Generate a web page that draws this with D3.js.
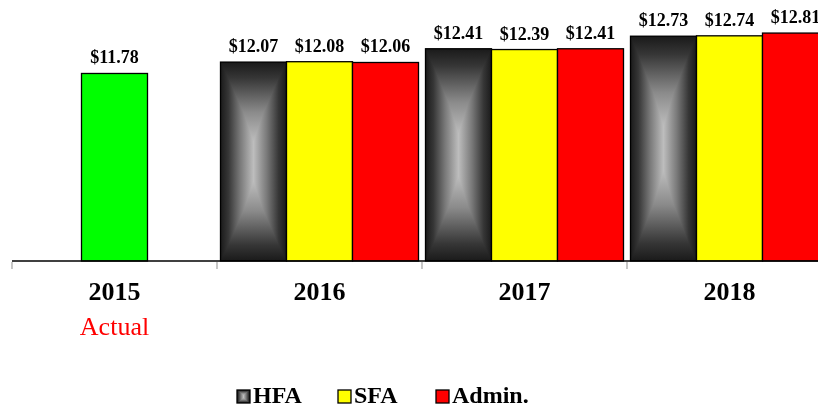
<!DOCTYPE html>
<html>
<head>
<meta charset="utf-8">
<script src="https://cdn.jsdelivr.net/npm/d3@7.9.0/dist/d3.min.js"></script>
<style>
  html, body { margin: 0; padding: 0; background: #fff; }
  svg { display: block; font-family: "Liberation Serif", "Times New Roman", serif; }
</style>
</head>
<body>
<div id="chart"></div>
<script>
// data
const years = ["2015", "2016", "2017", "2018"];
const series = ["HFA", "SFA", "Admin."];
const hfaValues = [null, 12.07, 12.41, 12.73];
const sfaValues = [null, 12.08, 12.39, 12.74];
const adminValues = [null, 12.06, 12.41, 12.81];
const actualValues = [11.78, null, null, null];
const subLabels = ["Actual", "", "", ""];

const width = 818;
const height = 406;

const seriesColor = { "HFA": "url(#hfa-h)", "SFA": "#ffff00", "Admin.": "#ff0000" };

// 每个 series 一组值
const seriesValues = { "HFA": hfaValues, "SFA": sfaValues, "Admin.": adminValues };

const svg = d3.select("#chart").append("svg")
  .attr("width", width)
  .attr("height", height);

// HFA 渐变：横向 + 纵向，再用 darken 叠起来 -> 矩形的 "from center" 效果
const defs = svg.append("defs");
function addGrad(id, vertical, stops) {
  const g = defs.append("linearGradient")
    .attr("id", id)
    .attr("x1", 0).attr("y1", 0)
    .attr("x2", vertical ? 0 : 1).attr("y2", vertical ? 1 : 0);
  stops.forEach(([o, c]) => g.append("stop").attr("offset", o).attr("stop-color", c));
}
addGrad("hfa-h", false, [[0, "#1a1a1a"], [0.12, "#363636"], [0.3, "#7a7a7a"], [0.5, "#bdbdbd"],
  [0.7, "#7a7a7a"], [0.88, "#363636"], [1, "#1a1a1a"]]);
addGrad("hfa-v", true, [[0, "#1a1a1a"], [0.08, "#363636"], [0.25, "#8a8a8a"], [0.4, "#bdbdbd"],
  [0.6, "#bdbdbd"], [0.75, "#8a8a8a"], [0.92, "#363636"], [1, "#1a1a1a"]]);

const x0 = d3.scaleBand().domain(years).range([12, 832]).padding(0);
const x1 = d3.scaleBand().domain(series).range([0, x0.bandwidth()]).paddingOuter(0.053);
const y = d3.scaleLinear().domain([7, 13.5]).range([261, 6]);

const fmt = (v) => "$" + d3.format(".2f")(v);

// 扁平化所有柱子
const bars = [];
years.forEach((yr, i) => {
  if (actualValues[i] != null) {
    bars.push({
      year: yr, key: "Actual", value: actualValues[i],
      x: x0(yr) + x0.bandwidth() / 2 - x1.bandwidth() / 2,
      fill: "#00ff00",
    });
  }
  series.forEach((s) => {
    const v = seriesValues[s][i];
    if (v == null) return;
    bars.push({ year: yr, key: s, value: v, x: x0(yr) + x1(s), fill: seriesColor[s] });
  });
});

const gBars = svg.append("g");
const barG = gBars.selectAll("g.bar").data(bars).join("g").attr("class", "bar");

barG.append("rect")
  .attr("x", (d) => d.x)
  .attr("y", (d) => y(d.value))
  .attr("width", x1.bandwidth())
  .attr("height", (d) => y(7) - y(d.value))
  .attr("fill", (d) => d.fill);

// HFA 纵向渐变叠加
barG.filter((d) => d.key === "HFA").append("rect")
  .attr("x", (d) => d.x)
  .attr("y", (d) => y(d.value))
  .attr("width", x1.bandwidth())
  .attr("height", (d) => y(7) - y(d.value))
  .attr("fill", "url(#hfa-v)")
  .style("mix-blend-mode", "darken");

// 描边
barG.append("rect")
  .attr("x", (d) => d.x)
  .attr("y", (d) => y(d.value))
  .attr("width", x1.bandwidth())
  .attr("height", (d) => y(7) - y(d.value))
  .attr("fill", "none")
  .attr("stroke", "#000")
  .attr("stroke-width", 1.3);

// 数值标签
barG.append("text")
  .attr("x", (d) => d.x + x1.bandwidth() / 2)
  .attr("y", (d) => y(d.value) - 10)
  .attr("text-anchor", "middle")
  .attr("font-weight", "bold")
  .attr("font-size", 18)
  .attr("fill", "#000")
  .text((d) => fmt(d.value));

// x 轴：基线 + 灰色刻度
const gAxis = svg.append("g");
gAxis.append("line")
  .attr("x1", x0.range()[0]).attr("x2", x0.range()[1])
  .attr("y1", y(7)).attr("y2", y(7))
  .attr("stroke", "#000").attr("stroke-width", 1.3);

gAxis.selectAll("line.tick")
  .data(years)
  .join("line")
  .attr("class", "tick")
  .attr("x1", (d) => x0(d)).attr("x2", (d) => x0(d))
  .attr("y1", y(7) + 1).attr("y2", y(7) + 8)
  .attr("stroke", "#aaa").attr("stroke-width", 1.3);

gAxis.selectAll("text.year")
  .data(years)
  .join("text")
  .attr("class", "year")
  .attr("x", (d) => x0(d) + x0.bandwidth() / 2)
  .attr("y", 300)
  .attr("text-anchor", "middle")
  .attr("font-weight", "bold")
  .attr("font-size", 26)
  .text((d) => d);

gAxis.selectAll("text.sub")
  .data(years.map((d, i) => ({ year: d, label: subLabels[i] })).filter((d) => d.label))
  .join("text")
  .attr("class", "sub")
  .attr("x", (d) => x0(d.year) + x0.bandwidth() / 2)
  .attr("y", 335)
  .attr("text-anchor", "middle")
  .attr("font-size", 26)
  .attr("fill", "#ff0000")
  .text((d) => d.label);

// 图例
const legendX = [237, 338, 436];
const legend = svg.append("g").selectAll("g").data(series).join("g")
  .attr("transform", (d, i) => `translate(${legendX[i]},390)`);

legend.append("rect")
  .attr("width", 13).attr("height", 13)
  .attr("fill", (d) => seriesColor[d]);
legend.filter((d) => d === "HFA").append("rect")
  .attr("width", 13).attr("height", 13)
  .attr("fill", "url(#hfa-v)")
  .style("mix-blend-mode", "darken");
legend.append("rect")
  .attr("width", 13).attr("height", 13)
  .attr("fill", "none").attr("stroke", "#000").attr("stroke-width", 1.3);

legend.append("text")
  .attr("x", 16).attr("y", 12.5)
  .attr("font-weight", "bold")
  .attr("font-size", 24)
  .text((d) => d);
</script>
</body>
</html>
